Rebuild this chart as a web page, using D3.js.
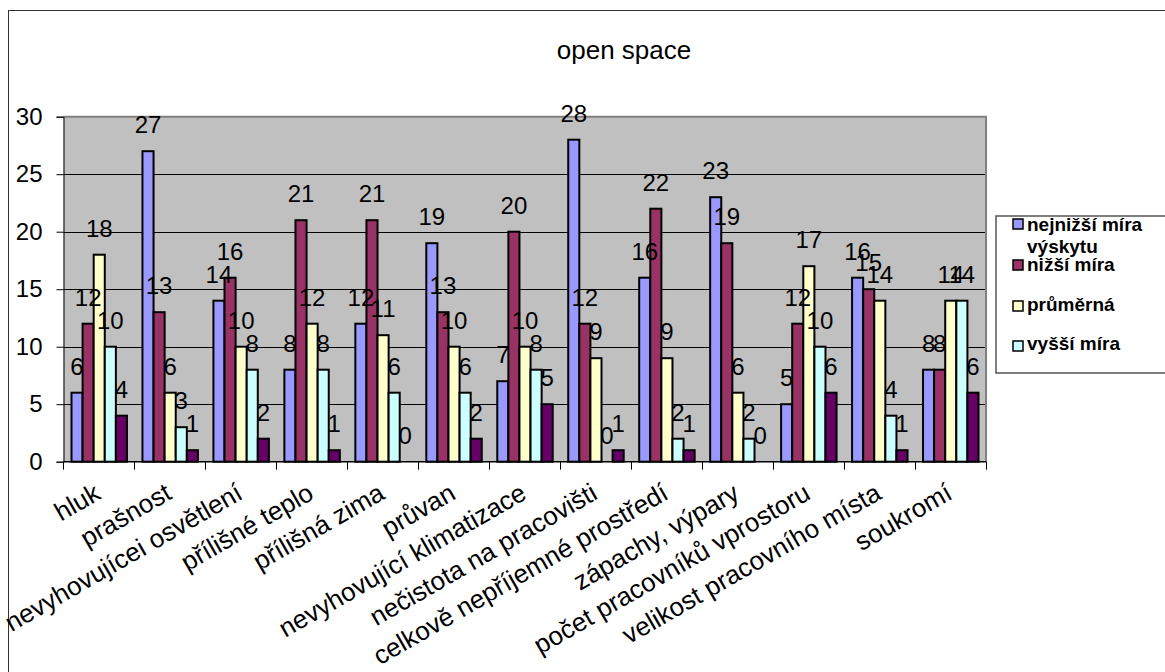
<!DOCTYPE html>
<html><head><meta charset="utf-8">
<script src="https://cdn.jsdelivr.net/npm/d3@7"></script>
<style>
html,body{margin:0;padding:0;background:#fff;}
svg{display:block;font-family:Arial,"Liberation Sans",sans-serif;}
</style></head><body>
<svg id="chart" width="1165" height="672"></svg>
<script>
// Categories along the x axis
const categories = [
  "hluk", "prašnost", "nevyhovujícei osvětlení", "přílišné teplo", "přílišná zima",
  "průvan", "nevyhovující klimatizace", "nečistota na pracovišti",
  "celkově nepříjemné prostředí", "zápachy, výpary", "počet pracovníků vprostoru",
  "velikost pracovního místa", "soukromí"
];

// Series names (legend shows the first four)
const seriesNames = ["nejnižší míra výskytu", "nižší míra", "průměrná", "vyšší míra", "nejvyšší míra"];

// Counts per series, one value per category
const lowest  = [6, 27, 14, 8, 12, 19, 7, 28, 16, 23, 5, 16, 8];
const lower   = [12, 13, 16, 21, 21, 13, 20, 12, 22, 19, 12, 15, 8];
const average = [18, 6, 10, 12, 11, 10, 10, 9, 9, 6, 17, 14, 14];
const higher  = [10, 3, 8, 8, 6, 6, 8, 0, 2, 2, 10, 4, 14];
const highest = [4, 1, 2, 1, 0, 2, 5, 1, 1, 0, 6, 1, 6];

const yTicks = [0, 5, 10, 15, 20, 25, 30];
const chartTitle = "open space";

const seriesValues = [lowest, lower, average, higher, highest];
const colors = ["#9999FF", "#993366", "#FFFFCC", "#CCFFFF", "#660066"];

const svg = d3.select("#chart");

// outer chart frame
svg.append("rect").attr("x", 8.5).attr("y", 10.5).attr("width", 1200).attr("height", 700)
  .attr("fill", "#fff").attr("stroke", "#333").attr("stroke-width", 1);

const plot = {left: 63.5, right: 986, top: 116.7, bottom: 461.7};

const x0 = d3.scaleBand().domain(categories).range([plot.left, plot.right]).padding(0);
const x1 = d3.scaleBand().domain(d3.range(seriesNames.length))
  .range([8, x0.bandwidth() - 7.5]).padding(0);
const y = d3.scaleLinear().domain([0, 30]).range([plot.bottom, plot.top]);

// plot area
svg.append("rect").attr("x", plot.left).attr("y", plot.top)
  .attr("width", plot.right - plot.left).attr("height", plot.bottom - plot.top)
  .attr("fill", "#C0C0C0");

// gridlines
svg.append("g").selectAll("line").data(yTicks.filter(t => t > 0 && t < 30)).join("line")
  .attr("x1", plot.left).attr("x2", plot.right)
  .attr("y1", d => Math.round(y(d)) + 0.5).attr("y2", d => Math.round(y(d)) + 0.5)
  .attr("stroke", "#000").attr("stroke-width", 1);

// top and right border of plot area
svg.append("path")
  .attr("d", `M${plot.left},${plot.top} H${plot.right} V${plot.bottom}`)
  .attr("fill", "none").attr("stroke", "#808080").attr("stroke-width", 2);

// bars
const rows = categories.map((c, i) => ({cat: c, vals: seriesValues.map(s => s[i])}));
const groups = svg.append("g").selectAll("g").data(rows).join("g")
  .attr("transform", d => `translate(${x0(d.cat)},0)`);
groups.selectAll("rect").data(d => d.vals.map((v, k) => ({v, k}))).join("rect")
  .attr("x", d => x1(d.k)).attr("width", x1.bandwidth())
  .attr("y", d => y(d.v)).attr("height", d => y(0) - y(d.v))
  .attr("fill", d => colors[d.k]).attr("stroke", "#000").attr("stroke-width", 2);

// y axis
const yAxis = d3.axisLeft(y).tickValues(yTicks).tickSize(7).tickPadding(14);
const gy = svg.append("g").attr("transform", `translate(${plot.left},0)`).call(yAxis);
gy.select(".domain").attr("stroke", "#000");
gy.selectAll(".tick line").attr("stroke", "#000");
gy.selectAll(".tick text").attr("font-size", 24).attr("fill", "#000")
  .attr("font-family", "Arial, 'Liberation Sans', sans-serif");

// x axis: ticks at category boundaries
const gx = svg.append("g");
gx.append("line").attr("x1", plot.left).attr("x2", plot.right)
  .attr("y1", plot.bottom).attr("y2", plot.bottom).attr("stroke", "#000").attr("stroke-width", 1.5);
const bounds = categories.map(c => x0(c)).concat([plot.right]);
gx.selectAll("line.tk").data(bounds).join("line").attr("class", "tk")
  .attr("x1", d => Math.round(d) + 0.5).attr("x2", d => Math.round(d) + 0.5)
  .attr("y1", plot.bottom).attr("y2", plot.bottom + 8).attr("stroke", "#000");
gx.selectAll("text").data(categories).join("text")
  .attr("transform", d => `translate(${x0(d) + x0.bandwidth() / 2 - 6},${plot.bottom + 20}) rotate(-30)`)
  .attr("text-anchor", "end").attr("dy", "0.72em")
  .attr("font-size", 26).attr("fill", "#000").text(d => d);

// value labels
const labels = svg.append("g");
rows.forEach(r => {
  r.vals.forEach((v, k) => {
    labels.append("text")
      .attr("x", x0(r.cat) + x1(k) + x1.bandwidth() / 2)
      .attr("y", y(v) - 18)
      .attr("text-anchor", "middle").attr("font-size", 24).attr("fill", "#000")
      .text(v);
  });
});

// title
svg.append("text").attr("x", 624).attr("y", 59).attr("text-anchor", "middle")
  .attr("font-size", 26).attr("fill", "#000").text(chartTitle);

// legend
const lg = svg.append("g");
lg.append("rect").attr("x", 996).attr("y", 216).attr("width", 220).attr("height", 157)
  .attr("fill", "#fff").attr("stroke", "#555").attr("stroke-width", 1.5);
const legendRows = [
  {k: 0, lines: ["nejnižší míra", "výskytu"], sy: 224, ty: 231},
  {k: 1, lines: [seriesNames[1]], sy: 265, ty: 271},
  {k: 2, lines: [seriesNames[2]], sy: 306, ty: 311},
  {k: 3, lines: [seriesNames[3]], sy: 346, ty: 350}
];
legendRows.forEach(e => {
  lg.append("rect").attr("x", 1013).attr("y", e.sy - 5).attr("width", 10).attr("height", 10)
    .attr("fill", colors[e.k]).attr("stroke", "#000").attr("stroke-width", 1.5);
  const t = lg.append("text").attr("x", 1027).attr("y", e.ty)
    .attr("font-size", 19).attr("font-weight", "bold").attr("fill", "#000");
  e.lines.forEach((ln, i) => {
    t.append("tspan").attr("x", 1027).attr("dy", i === 0 ? 0 : 22).text(ln);
  });
});
</script>
</body></html>
